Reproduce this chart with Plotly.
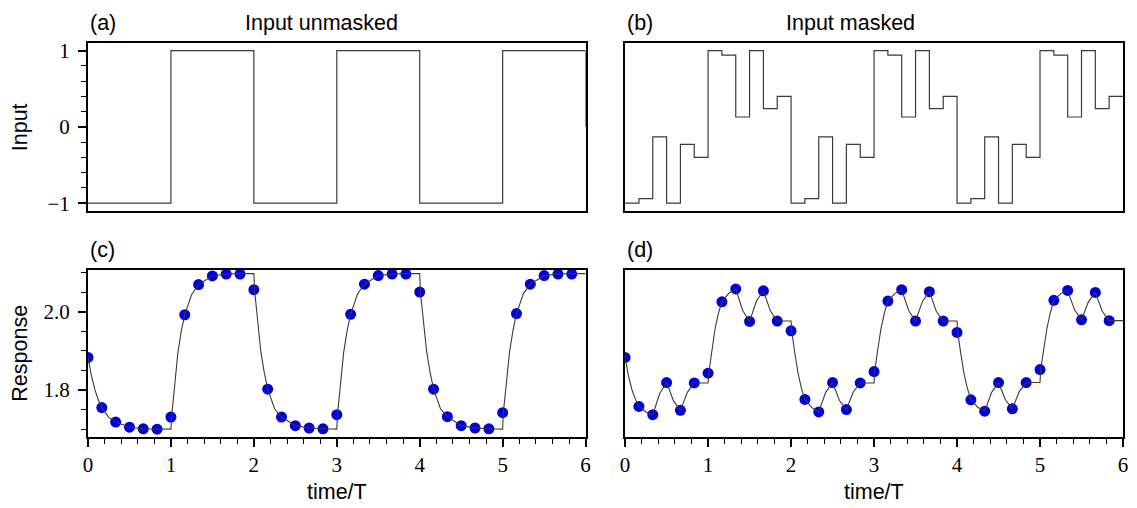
import plotly.graph_objects as go

# ---------------- data ----------------
# panel (a): unmasked square-wave input, value held from each switch time
switch_times = [0, 1, 2, 3, 4, 5, 6]
input_unmasked = [-1, 1, -1, 1, -1, 1, 0]

# panel (b): masked input, 6 steps per period T
sample_times = [k / 6 for k in range(36)]
input_masked = [
    -1.00, -0.94, -0.13, -1.00, -0.23, -0.40,
     1.00,  0.94,  0.13,  1.00,  0.24,  0.40,
    -1.00, -0.94, -0.13, -1.00, -0.23, -0.40,
     1.00,  0.94,  0.13,  1.00,  0.24,  0.40,
    -1.00, -0.94, -0.13, -1.00, -0.23, -0.40,
     1.00,  0.94,  0.13,  1.00,  0.24,  0.40,
]

# panel (c): sampled response (dots) and continuous response (line)
resp_c_samples = [
    1.883, 1.755, 1.718, 1.705, 1.701, 1.700,
    1.731, 1.992, 2.069, 2.091, 2.096, 2.096,
    2.056, 1.802, 1.731, 1.709, 1.703, 1.701,
    1.737, 1.993, 2.070, 2.092, 2.096, 2.096,
    2.050, 1.802, 1.732, 1.709, 1.703, 1.701,
    1.742, 1.995, 2.070, 2.092, 2.096, 2.096,
]
resp_c_line_t = [
    0.000, 0.042, 0.083, 0.125, 0.167, 0.250, 0.333, 0.500, 0.667, 0.833, 1.000,
    1.008, 1.042, 1.083, 1.125, 1.167, 1.250, 1.333, 1.500, 1.667, 1.833, 2.000,
    2.008, 2.042, 2.083, 2.125, 2.167, 2.250, 2.333, 2.500, 2.667, 2.833, 3.000,
    3.008, 3.042, 3.083, 3.125, 3.167, 3.250, 3.333, 3.500, 3.667, 3.833, 4.000,
    4.008, 4.042, 4.083, 4.125, 4.167, 4.250, 4.333, 4.500, 4.667, 4.833, 5.000,
    5.008, 5.042, 5.083, 5.125, 5.167, 5.250, 5.333, 5.500, 5.667, 5.833, 6.000,
]
resp_c_line_v = [
    1.883, 1.836, 1.801, 1.774, 1.755, 1.730, 1.718, 1.705, 1.701, 1.700, 1.700,
    1.731, 1.813, 1.894, 1.951, 1.992, 2.044, 2.069, 2.091, 2.096, 2.097, 2.097,
    2.056, 1.984, 1.899, 1.845, 1.802, 1.752, 1.731, 1.709, 1.703, 1.701, 1.700,
    1.737, 1.815, 1.896, 1.952, 1.993, 2.045, 2.070, 2.092, 2.096, 2.097, 2.097,
    2.050, 1.984, 1.899, 1.845, 1.802, 1.752, 1.732, 1.709, 1.703, 1.701, 1.700,
    1.742, 1.816, 1.897, 1.953, 1.995, 2.046, 2.070, 2.092, 2.096, 2.097, 2.097,
]

# panel (d): sampled response (dots) and continuous response (line)
resp_d_samples = [
    1.883, 1.758, 1.737, 1.819, 1.748, 1.818,
    1.843, 2.025, 2.058, 1.975, 2.053, 1.976,
    1.951, 1.776, 1.744, 1.819, 1.750, 1.818,
    1.847, 2.027, 2.056, 1.976, 2.051, 1.976,
    1.947, 1.775, 1.746, 1.819, 1.752, 1.819,
    1.852, 2.029, 2.054, 1.979, 2.049, 1.977,
]
resp_d_line_t = [
    0.000, 0.042, 0.083, 0.125, 0.167, 0.250, 0.333, 0.417, 0.500, 0.583, 0.667, 0.750, 0.833, 1.000,
    1.008, 1.042, 1.083, 1.125, 1.167, 1.250, 1.333, 1.417, 1.500, 1.583, 1.667, 1.750, 1.833, 2.000,
    2.008, 2.042, 2.083, 2.125, 2.167, 2.250, 2.333, 2.417, 2.500, 2.583, 2.667, 2.750, 2.833, 3.000,
    3.008, 3.042, 3.083, 3.125, 3.167, 3.250, 3.333, 3.417, 3.500, 3.583, 3.667, 3.750, 3.833, 4.000,
    4.008, 4.042, 4.083, 4.125, 4.167, 4.250, 4.333, 4.417, 4.500, 4.583, 4.667, 4.750, 4.833, 5.000,
    5.008, 5.042, 5.083, 5.125, 5.167, 5.250, 5.333, 5.417, 5.500, 5.583, 5.667, 5.750, 5.833, 6.000,
]
resp_d_line_v = [
    1.883, 1.835, 1.800, 1.776, 1.758, 1.744, 1.737, 1.791, 1.819, 1.772, 1.748, 1.794, 1.818, 1.818,
    1.843, 1.898, 1.955, 1.996, 2.025, 2.047, 2.058, 2.003, 1.975, 2.027, 2.053, 2.002, 1.976, 1.976,
    1.951, 1.899, 1.844, 1.804, 1.776, 1.755, 1.744, 1.794, 1.819, 1.773, 1.750, 1.795, 1.818, 1.818,
    1.847, 1.899, 1.956, 1.997, 2.027, 2.046, 2.056, 2.003, 1.976, 2.026, 2.051, 2.001, 1.976, 1.976,
    1.947, 1.898, 1.843, 1.804, 1.775, 1.756, 1.746, 1.794, 1.819, 1.775, 1.752, 1.796, 1.819, 1.819,
    1.852, 1.900, 1.957, 1.998, 2.029, 2.046, 2.054, 2.004, 1.979, 2.025, 2.049, 2.001, 1.977, 1.977,
]

panel_letters = ["(a)", "(b)", "(c)", "(d)"]
panel_titles = ["Input unmasked", "Input masked"]
y_labels = ["Input", "Response"]
x_label = "time/T"
x_ticks = [0, 1, 2, 3, 4, 5, 6]
input_ticks = [-1, 0, 1]
input_ticktext = ["\u22121", "0", "1"]
response_ticks = [1.8, 2.0]
response_ticktext = ["1.8", "2.0"]

# ---------------- styling ----------------
W, H = 1137, 508
ML, MR, MT, MB = 88, 9, 43, 70.5
LINE_COL = "#3a3a3a"
DOT_COL = "#0000dc"
SANS = "Liberation Sans, Arial, sans-serif"
SERIF = "Liberation Serif, Times New Roman, serif"

fig = go.Figure()

fig.add_trace(go.Scatter(x=switch_times, y=input_unmasked, mode="lines", line_shape="hv",
                         line=dict(color=LINE_COL, width=1.2), xaxis="x", yaxis="y",
                         showlegend=False, hoverinfo="skip"))
fig.add_trace(go.Scatter(x=sample_times + [6], y=input_masked + [input_masked[-1]], mode="lines",
                         line_shape="hv", line=dict(color=LINE_COL, width=1.2),
                         xaxis="x2", yaxis="y2", showlegend=False, hoverinfo="skip"))
fig.add_trace(go.Scatter(x=sample_times, y=resp_c_samples, mode="markers",
                         marker=dict(color=DOT_COL, size=11, line=dict(width=0)),
                         xaxis="x3", yaxis="y3", showlegend=False, hoverinfo="skip"))
fig.add_trace(go.Scatter(x=resp_c_line_t, y=resp_c_line_v, mode="lines",
                         line=dict(color=LINE_COL, width=1.1),
                         xaxis="x3", yaxis="y3", showlegend=False, hoverinfo="skip"))
fig.add_trace(go.Scatter(x=sample_times, y=resp_d_samples, mode="markers",
                         marker=dict(color=DOT_COL, size=11, line=dict(width=0)),
                         xaxis="x4", yaxis="y4", showlegend=False, hoverinfo="skip"))
fig.add_trace(go.Scatter(x=resp_d_line_t, y=resp_d_line_v, mode="lines",
                         line=dict(color=LINE_COL, width=1.1),
                         xaxis="x4", yaxis="y4", showlegend=False, hoverinfo="skip"))

plot_w = W - ML - MR
plot_h = H - MT - MB
left_dom = [0, 500 / plot_w]
right_dom = [(627.7 - ML) / plot_w, 1]
top_dom = [(H - MB - 211) / plot_h, 1]
bot_dom = [0, (H - MB - 270) / plot_h]

frame = dict(showline=True, linewidth=2, linecolor="black", mirror=True,
             showgrid=False, zeroline=False)
tickfont = dict(family=SERIF, size=21, color="black")


def xax(dom, anchor, labels):
    d = dict(domain=dom, anchor=anchor, range=[0, 6], **frame)
    if labels:
        d.update(tickvals=x_ticks, ticks="outside", ticklen=8, tickwidth=1.5,
                 tickcolor="black", tickfont=tickfont,
                 minor=dict(dtick=0.2, tick0=0, ticks="outside", ticklen=5,
                            tickwidth=1.2, tickcolor="black"))
    else:
        d.update(ticks="", showticklabels=False)
    return d


def yax(dom, anchor, rng, tv, tt, mdt, labels):
    d = dict(domain=dom, anchor=anchor, range=rng, **frame)
    if labels:
        d.update(tickvals=tv, ticktext=tt, ticks="outside", ticklen=8, tickwidth=1.5,
                 tickcolor="black", tickfont=tickfont, ticklabelstandoff=4,
                 minor=dict(dtick=mdt, tick0=0, ticks="outside", ticklen=5,
                            tickwidth=1.2, tickcolor="black"))
    else:
        d.update(ticks="", showticklabels=False)
    return d


in_rng = [-1.1, 1.1]
re_rng = [1.68, 2.107]

fig.update_layout(
    width=W, height=H,
    margin=dict(l=ML, r=MR, t=MT, b=MB),
    paper_bgcolor="white", plot_bgcolor="white",
    xaxis=xax(left_dom, "y", False),
    yaxis=yax(top_dom, "x", in_rng, input_ticks, input_ticktext, 0.2, True),
    xaxis2=xax(right_dom, "y2", False),
    yaxis2=yax(top_dom, "x2", in_rng, input_ticks, input_ticktext, 0.2, False),
    xaxis3=xax(left_dom, "y3", True),
    yaxis3=yax(bot_dom, "x3", re_rng, response_ticks, response_ticktext, 0.05, True),
    xaxis4=xax(right_dom, "y4", True),
    yaxis4=yax(bot_dom, "x4", re_rng, response_ticks, response_ticktext, 0.05, False),
)

sans = dict(family=SANS, size=21.5, color="black")
ann = []
for letter, xr, yr in zip(panel_letters, ["x", "x2", "x3", "x4"], ["y", "y2", "y3", "y4"]):
    ann.append(dict(text=letter, xref=f"{xr} domain", yref=f"{yr} domain", x=0, y=1,
                    xanchor="left", yanchor="middle", yshift=20, showarrow=False, font=sans))
for title, xr, xpos in zip(panel_titles, ["x", "x2"], [0.312, 0.319]):
    ann.append(dict(text=title, xref=f"{xr} domain", yref="y domain", x=xpos, y=1,
                    xanchor="left", yanchor="middle", yshift=20, showarrow=False, font=sans))
for lab, yr in zip(y_labels, ["y", "y3"]):
    ann.append(dict(text=lab, xref="paper", yref=f"{yr} domain", x=(20 - ML) / plot_w, y=0.5,
                    xanchor="center", yanchor="middle", textangle=-90, showarrow=False, font=sans))
for xr in ["x3", "x4"]:
    ann.append(dict(text=x_label, xref=f"{xr} domain", yref="y3 domain", x=0.5, y=0,
                    xanchor="center", yanchor="middle", yshift=-55, showarrow=False, font=sans))
fig.update_layout(annotations=ann)

fig.write_html("out.html", config={"displayModeBar": False},
               post_script="document.body.style.margin='0';")
